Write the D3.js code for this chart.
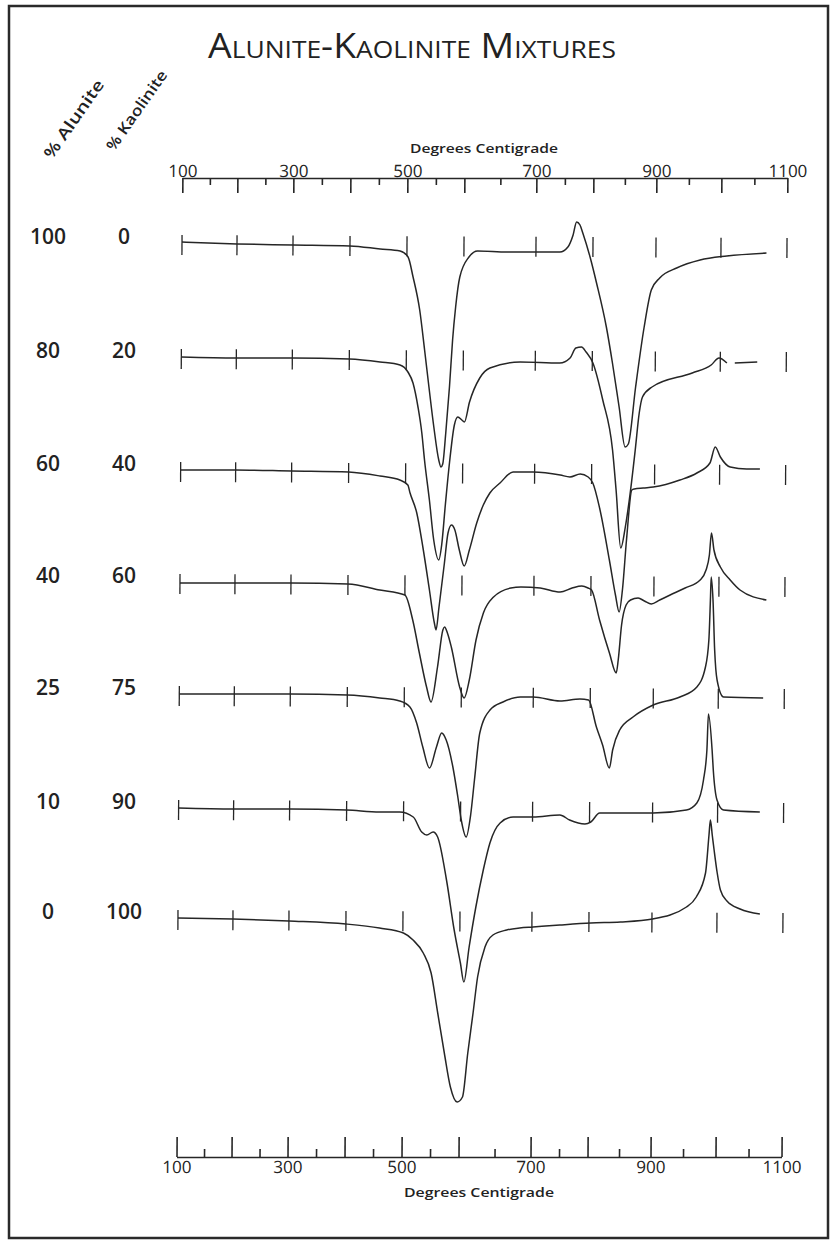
<!DOCTYPE html>
<html lang="en">
<head>
<meta charset="UTF-8"/>
<title>Alunite-Kaolinite Mixtures</title>
<script src="https://d3js.org/d3.v7.min.js"></script>
<style>
  body { margin:0; background:#fff; }
  svg { display:block; font-family:'Open Sans', sans-serif; }
  .curve { fill:none; stroke:#262626; stroke-width:1.5; stroke-linejoin:round; }
  .rowtick { stroke:#262626; stroke-width:1.3; }
  .axis path, .axis line { stroke:#262626; stroke-width:1.6; }
  .axis text { fill:#222; font-family:'Open Sans', sans-serif; font-size:17px; font-weight:500; }
  .lbl { fill:#222; font-weight:600; }
</style>
</head>
<body>
<svg width="836" height="1247"></svg>
<script>
// temperature ticks (deg C) and labelled ones
const temps = [100, 200, 300, 400, 500, 600, 700, 800, 900, 1000, 1100];
const minorTemps = [150, 250, 350, 450, 550, 650, 750, 850, 950, 1050];
const axisLabels = [100, 300, 500, 700, 900, 1100];

// mixture composition per curve
const alunitePct = [100, 80, 60, 40, 25, 10, 0];
const kaolinitePct = [0, 20, 40, 60, 75, 90, 100];

// DTA traces: [temperature, deflection] (up = exothermic)
const a100 = [[100,1],[200,-1],[300,-2],[400,-3],[453,-6],[488,-8],[502,-14],[511,-34],[523,-67],[532,-107],[540,-144],[549,-184],[558,-217],[562,-224],[565,-221],[570,-190],[576,-144],[581,-97],[586,-64],[593,-34],[607,-14],[619,-8],[660,-9],[742,-9],[756,-4],[765,8],[771,21],[777,18],[782,10],[795,-14],[806,-40],[822,-84],[832,-120],[843,-164],[853,-204],[858,-201],[869,-144],[882,-84],[893,-47],[906,-35],[932,-25],[968,-17],[1009,-13],[1069,-10]];
const a80 = [[100,0],[200,-1],[300,-1],[400,-2],[454,-5],[489,-8],[503,-15],[512,-26],[521,-50],[528,-76],[533,-103],[542,-143],[550,-183],[559,-203],[564,-188],[570,-148],[577,-105],[585,-68],[591,-60],[598,-63],[602,-65],[609,-45],[623,-21],[637,-11],[679,-5],[743,-6],[761,-1],[771,9],[781,10],[789,5],[801,-6],[817,-43],[833,-93],[839,-133],[847,-191],[854,-170],[862,-133],[869,-93],[875,-56],[880,-40],[895,-30],[957,-16],[986,-8],[998,-1],[1010,-6],[1016,null],[1022,-6],[1056,-5]];
const a60 = [[100,0],[200,0],[300,-1],[400,-2],[455,-6],[490,-10],[504,-15],[508,-23],[520,-43],[531,-77],[543,-120],[552,-153],[555,-160],[560,-137],[569,-93],[575,-63],[581,-55],[587,-60],[595,-80],[603,-96],[610,-80],[620,-53],[629,-35],[638,-23],[652,-13],[670,-2],[698,-2],[745,-5],[762,-7],[780,-4],[794,-7],[802,-13],[813,-38],[829,-90],[839,-125],[845,-142],[850,-120],[856,-70],[864,-20],[868,-19],[882,-18],[898,-17],[939,-10],[965,-3],[985,7],[993,23],[1001,13],[1016,3],[1041,1],[1061,1]];
const a40 = [[100,-1],[200,-1],[300,-1],[400,-2],[456,-8],[500,-13],[514,-38],[526,-71],[539,-105],[547,-120],[558,-85],[567,-48],[570,-45],[575,-51],[582,-65],[597,-105],[604,-116],[611,-98],[620,-58],[630,-31],[644,-15],[668,-6],[682,-5],[711,-6],[746,-10],[767,-6],[784,-4],[795,-6],[801,-8],[814,-38],[830,-71],[841,-91],[844,-78],[849,-43],[856,-23],[863,-18],[875,-16],[885,-19],[896,-22],[909,-18],[925,-13],[948,-6],[971,2],[980,12],[985,27],[988,49],[992,32],[1002,15],[1017,2],[1032,-8],[1072,-18]];
const a25 = [[100,0],[200,0],[300,0],[400,-1],[457,-4],[492,-7],[510,-13],[522,-29],[533,-53],[545,-74],[557,-53],[566,-39],[574,-46],[586,-73],[595,-103],[601,-126],[608,-143],[614,-121],[619,-86],[626,-39],[640,-16],[658,-8],[682,-3],[700,-3],[747,-7],[782,-5],[797,-6],[810,-33],[820,-51],[831,-74],[836,-56],[847,-36],[868,-23],[900,-11],[941,-3],[967,7],[980,27],[985,54],[987,94],[988,117],[991,94],[994,44],[998,14],[1008,-3],[1068,-4]];
const a10 = [[100,0],[200,-1],[300,-1],[400,-2],[458,-4],[493,-4],[517,-9],[532,-24],[541,-27],[552,-24],[560,-29],[576,-72],[590,-122],[601,-155],[606,-174],[613,-139],[622,-99],[632,-62],[641,-35],[655,-15],[673,-9],[701,-9],[748,-7],[765,-12],[792,-16],[802,-14],[816,-5],[848,-5],[901,-5],[952,-2],[968,5],[978,28],[983,58],[985,94],[991,58],[993,38],[999,8],[1009,-2],[1064,-4]];
const a0 = [[100,0],[200,-1],[300,-3],[400,-6],[459,-10],[501,-15],[518,-22],[536,-35],[550,-55],[562,-95],[574,-135],[585,-169],[597,-184],[605,-179],[612,-135],[619,-95],[625,-59],[635,-29],[646,-17],[665,-12],[683,-10],[702,-9],[749,-7],[803,-5],[850,-4],[901,-1],[953,11],[968,21],[982,45],[987,83],[989,98],[992,83],[995,68],[1000,45],[1005,28],[1015,17],[1035,9],[1065,4]];

const series = [a100, a80, a60, a40, a25, a10, a0];

const svg = d3.select('svg');

svg.append('rect')
  .attr('x', 9).attr('y', 6)
  .attr('width', 819).attr('height', 1232)
  .attr('fill', 'none')
  .attr('stroke', '#2a2a2a')
  .attr('stroke-width', 2.5);

// the drawing leans a little, so the plot group is skewed
const chart = svg.append('g')
  .attr('transform', 'translate(1.46,0) skewX(-0.344)');

// temperature scale of the original is not uniform
const x = d3.scaleLinear()
  .domain(temps)
  .range([182, 237, 293, 350, 407, 464, 536, 593, 656, 721, 787]);

const rowY = d3.scaleOrdinal()
  .domain(d3.range(series.length))
  .range([243, 357, 470, 582, 694, 808, 918]);

const yDefl = d3.scaleLinear()
  .domain([-250, 150])
  .range([250, -150]);

const line = d3.line()
  .defined(d => d[1] != null)
  .x(d => x(d[0]))
  .y(d => yDefl(d[1]))
  .curve(d3.curveMonotoneX);

// top axis
const topY = 178;
chart.append('g')
  .attr('class', 'axis')
  .attr('transform', `translate(0,${topY})`)
  .call(d3.axisTop(x).tickValues(temps).tickSize(-15).tickSizeOuter(0).tickPadding(1)
    .tickFormat(d => axisLabels.includes(d) ? d : ''));
chart.append('g')
  .attr('class', 'axis')
  .attr('transform', `translate(0,${topY})`)
  .call(d3.axisTop(x).tickValues(minorTemps).tickSize(-7).tickSizeOuter(0).tickFormat(''))
  .select('.domain').remove();

// bottom axis
const botY = 1157;
chart.append('g')
  .attr('class', 'axis')
  .attr('transform', `translate(0,${botY})`)
  .call(d3.axisBottom(x).tickValues(temps).tickSize(-20).tickSizeOuter(0).tickPadding(4)
    .tickFormat(d => axisLabels.includes(d) ? d : ''));
chart.append('g')
  .attr('class', 'axis')
  .attr('transform', `translate(0,${botY})`)
  .call(d3.axisBottom(x).tickValues(minorTemps).tickSize(-8).tickSizeOuter(0).tickFormat(''))
  .select('.domain').remove();

chart.selectAll('.axis text').attr('font-family', null).attr('font-size', null);

// curves with their temperature marks
const rows = chart.selectAll('g.row')
  .data(series)
  .enter()
  .append('g')
  .attr('class', 'row')
  .attr('transform', (d, i) => `translate(0,${rowY(i)})`);

rows.append('path')
  .attr('class', 'curve')
  .attr('d', d => line(d));

rows.selectAll('line.rowtick')
  .data(temps)
  .enter()
  .append('line')
  .attr('class', 'rowtick')
  .attr('x1', t => x(t))
  .attr('x2', t => x(t))
  .attr('y1', t => yDefl(-(2 + 3 * (t - 100) / 1000)) - 10)
  .attr('y2', t => yDefl(-(2 + 3 * (t - 100) / 1000)) + 10);

// composition labels
alunitePct.forEach((p, i) => {
  svg.append('text').attr('class', 'lbl')
    .attr('x', 48).attr('y', rowY(i) + 1)
    .attr('text-anchor', 'middle').attr('font-size', 21)
    .text(p);
  svg.append('text').attr('class', 'lbl')
    .attr('x', 124).attr('y', rowY(i) + 1)
    .attr('text-anchor', 'middle').attr('font-size', 21)
    .text(kaolinitePct[i]);
});

svg.append('text').attr('class', 'lbl')
  .attr('transform', 'translate(52,160) rotate(-55)')
  .attr('font-size', 16)
  .attr('textLength', 92).attr('lengthAdjust', 'spacingAndGlyphs')
  .text('% Alunite');

svg.append('text').attr('class', 'lbl')
  .attr('transform', 'translate(114,152) rotate(-55)')
  .attr('font-size', 15)
  .attr('textLength', 94).attr('lengthAdjust', 'spacingAndGlyphs')
  .text('% Kaolinite');

svg.append('text').attr('class', 'lbl')
  .attr('x', 484).attr('y', 153)
  .attr('text-anchor', 'middle').attr('font-size', 13).attr('font-weight', 700)
  .attr('textLength', 148).attr('lengthAdjust', 'spacingAndGlyphs')
  .text('Degrees Centigrade');

svg.append('text').attr('class', 'lbl')
  .attr('x', 479).attr('y', 1197)
  .attr('text-anchor', 'middle').attr('font-size', 13).attr('font-weight', 700)
  .attr('textLength', 150).attr('lengthAdjust', 'spacingAndGlyphs')
  .text('Degrees Centigrade');

svg.append('text')
  .attr('x', 412).attr('y', 58)
  .attr('text-anchor', 'middle')
  .attr('font-size', 34)
  .attr('fill', '#222')
  .style('font-variant', 'small-caps')
  .attr('textLength', 408).attr('lengthAdjust', 'spacingAndGlyphs')
  .text('Alunite-Kaolinite  Mixtures');
</script>
</body>
</html>
